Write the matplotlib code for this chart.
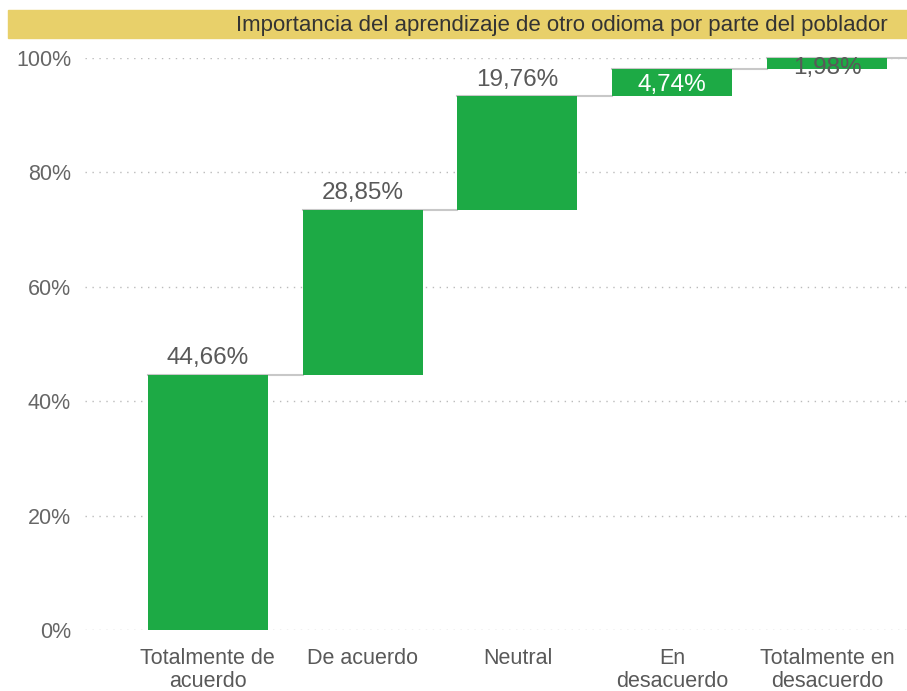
import matplotlib
matplotlib.use("Agg")
import matplotlib.pyplot as plt
from matplotlib.patches import Rectangle

plt.rcParams["font.family"] = ["Liberation Sans", "DejaVu Sans"]

categories = ["Totalmente de\nacuerdo", "De acuerdo", "Neutral", "En\ndesacuerdo", "Totalmente en\ndesacuerdo"]
values = [44.66, 28.85, 19.76, 4.74, 1.98]
labels = ["44,66%", "28,85%", "19,76%", "4,74%", "1,98%"]
yticks = [0, 20, 40, 60, 80, 100]

green = "#1DAA45"
text_gray = "#595959"

fig = plt.figure(figsize=(9.07, 6.91), dpi=100)

# title band across the top
fig.patches.append(Rectangle((8 / 907, 1 - 38 / 691), 899 / 907, 28 / 691,
                             transform=fig.transFigure, color="#E8D06A", zorder=0))
fig.text(888 / 907, 1 - 25 / 691, "Importancia del aprendizaje de otro odioma por parte del poblador",
         ha="right", va="center", fontsize=16, color="#333333")

ax = fig.add_axes([85 / 907, 61 / 691, 822 / 907, (630 - 58) / 691])

bottoms = []
running = 0
for v in values:
    bottoms.append(running)
    running += v

x = list(range(len(values)))
ax.bar(x, values, bottom=bottoms, width=0.775, color=green, zorder=3)

ax.set_xlim(-0.7935, 4.516)
ax.set_ylim(0, 100)

# connector lines between steps
tops = [b + v for b, v in zip(bottoms, values)]
for i, t in enumerate(tops):
    x0 = i - 0.3875
    x1 = i + 1 - 0.3875 if i < len(tops) - 1 else ax.get_xlim()[1]
    ax.plot([x0, x1], [t, t], color="#C8C8C8", lw=1.5, zorder=2, clip_on=False)

# value labels
for i, (b, v, lab) in enumerate(zip(bottoms, values, labels)):
    if i < 3:
        ax.annotate(lab, (i, b + v), xytext=(0, 4), textcoords="offset points",
                    ha="center", va="bottom", fontsize=17.5, color=text_gray)
    elif i == 3:
        ax.text(i, b + v / 2 - 0.3, lab, ha="center", va="center", fontsize=17.5,
                color="white", zorder=4)
    else:
        ax.text(i, b + 0.2, lab, ha="center", va="center", fontsize=17.5,
                color=text_gray, zorder=4)

ax.set_yticks(yticks)
ax.set_yticklabels([f"{t}%" for t in yticks])
ax.grid(axis="y", linestyle=(0, (1, 4)), color="#BBBBBB", lw=1, zorder=0)
ax.set_xticks(x)
ax.set_xticklabels(categories, fontsize=15.5, color=text_gray, linespacing=1.15)
ax.tick_params(axis="y", labelsize=15.5, labelcolor="#666666", length=0, pad=10)
ax.tick_params(axis="x", length=0, pad=13)
for s in ax.spines.values():
    s.set_visible(False)

fig.savefig("out.png", dpi=100)
